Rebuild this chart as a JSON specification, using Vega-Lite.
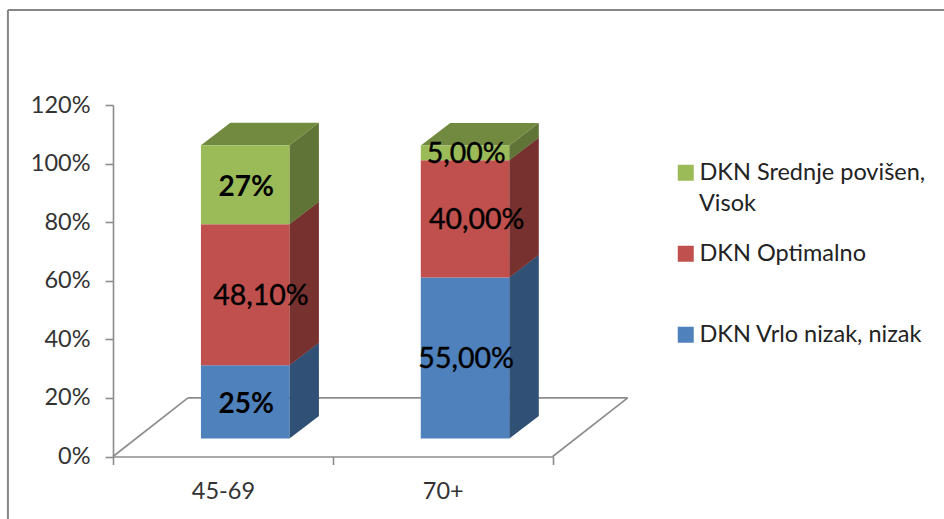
{
"$schema":"https://vega.github.io/schema/vega-lite/v6.json",
"width":439.7,"height":351.5,
"autosize":{"type":"none"},
"padding":{"left":113,"top":105,"right":391.3,"bottom":62.5},
"background":"white",
"config":{"view":{"stroke":null},"font":"Lato"},
"data":{"values":[
{"category":"45-69","categoryIndex":0,"series":"DKN Vrlo nizak, nizak","stackOrder":1,"value":25,"label":"25%"},
{"category":"45-69","categoryIndex":0,"series":"DKN Optimalno","stackOrder":2,"value":48.1,"label":"48,10%"},
{"category":"45-69","categoryIndex":0,"series":"DKN Srednje povišen, Visok","stackOrder":3,"value":27,"label":"27%"},
{"category":"70+","categoryIndex":1,"series":"DKN Vrlo nizak, nizak","stackOrder":1,"value":55,"label":"55,00%"},
{"category":"70+","categoryIndex":1,"series":"DKN Optimalno","stackOrder":2,"value":40,"label":"40,00%"},
{"category":"70+","categoryIndex":1,"series":"DKN Srednje povišen, Visok","stackOrder":3,"value":5,"label":"5,00%"}
]},
"transform":[
{"stack":"value","groupby":["category"],"sort":[{"field":"stackOrder"}],"as":["low","high"]},
{"calculate":"datum.low+6.15","as":"frontLow"},
{"calculate":"datum.high+6.15","as":"frontHigh"},
{"calculate":"datum.categoryIndex+0.4","as":"left"},
{"calculate":"datum.left+0.4025","as":"right"}
],
"layer":[
{"data":{"values":[{}]},"mark":{"type":"rule","color":"#8c8c8c","strokeWidth":1.6,"clip":false},
 "encoding":{"x":{"datum":0,"type":"quantitative","scale":{"domain":[0,2]}},"x2":{"datum":0.341},"y":{"datum":0,"type":"quantitative","scale":{"domain":[0,120]}},"y2":{"datum":20}}},
{"data":{"values":[{}]},"mark":{"type":"rule","color":"#8c8c8c","strokeWidth":1.6,"clip":false},
 "encoding":{"x":{"datum":0.341,"type":"quantitative"},"x2":{"datum":2.341},"y":{"datum":20,"type":"quantitative"},"y2":{"datum":20}}},
{"data":{"values":[{}]},"mark":{"type":"rule","color":"#8c8c8c","strokeWidth":1.6,"clip":false},
 "encoding":{"x":{"datum":2.341,"type":"quantitative"},"x2":{"datum":2},"y":{"datum":20,"type":"quantitative"},"y2":{"datum":0}}},
{"data":{"values":[{}]},"mark":{"type":"rule","color":"#868686","strokeWidth":2,"clip":false},
 "encoding":{"x":{"datum":-0.478,"type":"quantitative"},"y":{"datum":-25,"type":"quantitative"},"y2":{"datum":152.4}}},
{"data":{"values":[{}]},"mark":{"type":"rule","color":"#868686","strokeWidth":2,"clip":false},
 "encoding":{"x":{"datum":-0.478,"type":"quantitative"},"x2":{"datum":3.8},"y":{"datum":152.4,"type":"quantitative"}}},
{"transform":[{"calculate":"[0,1]","as":"d"},{"flatten":["d"]},
  {"calculate":"datum.right+0.134*datum.d","as":"sx"},
  {"calculate":"datum.frontLow+7.68*datum.d","as":"sl"},
  {"calculate":"datum.frontHigh+7.68*datum.d","as":"sh"}],
 "layer":[
 {"mark":{"type":"area","orient":"vertical","clip":false},
 "encoding":{
  "x":{"field":"sx","type":"quantitative","scale":{"domain":[0,2]},
   "axis":{"values":[0,0.5,1,1.5,2],"title":null,"grid":false,"domainColor":"#8c8c8c","domainWidth":1.6,"tickColor":"#8c8c8c","tickWidth":1.6,"tickSize":8,
    "tickOpacity":{"condition":{"test":"datum.value % 1 === 0","value":1},"value":0},
    "labelExpr":"datum.value === 0.5 ? '45-69' : datum.value === 1.5 ? '70+' : ''",
    "labelFontSize":23.5,"labelColor":"#333333","labelPadding":15,"labelFont":"Lato","labelFlush":false,"labelOverlap":false}},
  "y":{"field":"sl","type":"quantitative","scale":{"domain":[0,120]},
   "axis":{"values":[0,20,40,60,80,100,120],"title":null,"grid":false,"domainColor":"#8c8c8c","domainWidth":1.6,"tickColor":"#8c8c8c","tickWidth":1.6,"tickSize":8,
    "labelExpr":"datum.value + '%'","labelFontSize":23.5,"labelColor":"#333333","labelPadding":15,"labelFont":"Lato"}},
  "y2":{"field":"sh"},
  "detail":{"field":"category"},
  "color":{"field":"series","type":"nominal",
    "scale":{"domain":["DKN Srednje povišen, Visok","DKN Optimalno","DKN Vrlo nizak, nizak"],"range":["#9bbb59","#c0504d","#4f81bd"]},
    "legend":{"orient":"none","legendX":561,"legendY":56,"title":null,"symbolType":"square","symbolSize":256,"symbolStrokeWidth":0,"symbolOpacity":1,"labelFontSize":23.5,"labelColor":"#222222","labelFont":"Lato","labelLimit":300,"rowPadding":56,"labelOffset":2,
     "labelExpr":"datum.label === 'DKN Srednje povišen, Visok' ? 'DKN Srednje povišen,' : datum.label"}}
 }},
 {"mark":{"type":"area","orient":"vertical","clip":false,"color":"#000000","opacity":0.38},
 "encoding":{
  "x":{"field":"sx","type":"quantitative"},
  "y":{"field":"sl","type":"quantitative"},
  "y2":{"field":"sh"},
  "detail":[{"field":"category"},{"field":"series"}]
 }}
 ]},
{"transform":[{"filter":"datum.stackOrder === 3"},{"calculate":"[0,1]","as":"d"},{"flatten":["d"]},
  {"calculate":"datum.left+0.134*datum.d","as":"tl"},
  {"calculate":"datum.right+0.134*datum.d","as":"tr"},
  {"calculate":"datum.frontHigh+7.68*datum.d","as":"ty"}],
 "mark":{"type":"area","orient":"horizontal","color":"#728a40","clip":false},
 "encoding":{"y":{"field":"ty","type":"quantitative"},"x":{"field":"tl","type":"quantitative"},"x2":{"field":"tr"},"detail":{"field":"category"}}},
{"mark":{"type":"rect","clip":false},
 "encoding":{
  "x":{"field":"left","type":"quantitative"},"x2":{"field":"right"},
  "y":{"field":"frontLow","type":"quantitative"},"y2":{"field":"frontHigh"},
  "color":{"field":"series","type":"nominal"}
 }},
{"data":{"values":[{"text":"Visok"}]},"mark":{"type":"text","align":"left","baseline":"middle","fontSize":23.5,"color":"#222222","font":"Lato","clip":false},
 "encoding":{"x":{"datum":2.665,"type":"quantitative"},"y":{"datum":86.3,"type":"quantitative"},"text":{"field":"text"}}},
{"transform":[{"filter":"datum.label === '25%' || datum.label === '27%'"},{"calculate":"datum.left+0.206","as":"lx"},{"calculate":"(datum.frontLow+datum.frontHigh)/2","as":"ly"}],
 "mark":{"type":"text","fontSize":28,"fontWeight":"bold","color":"#000000","baseline":"middle","font":"Lato","dy":3,"clip":false},
 "encoding":{"x":{"field":"lx","type":"quantitative"},"y":{"field":"ly","type":"quantitative"},"text":{"field":"label"}}},
{"transform":[{"filter":"datum.label !== '25%' && datum.label !== '27%'"},{"calculate":"datum.left+0.201+(datum.label==='48,10%'?0.072:datum.label==='40,00%'?0.053:0.005)","as":"lx"},{"calculate":"(datum.frontLow+datum.frontHigh)/2","as":"ly"}],
 "mark":{"type":"text","fontSize":28.5,"color":"#000000","stroke":"#000000","strokeWidth":0.4,"baseline":"middle","font":"Lato","dy":1,"clip":false},
 "encoding":{"x":{"field":"lx","type":"quantitative"},"y":{"field":"ly","type":"quantitative"},"text":{"field":"label"}}}
]
}
